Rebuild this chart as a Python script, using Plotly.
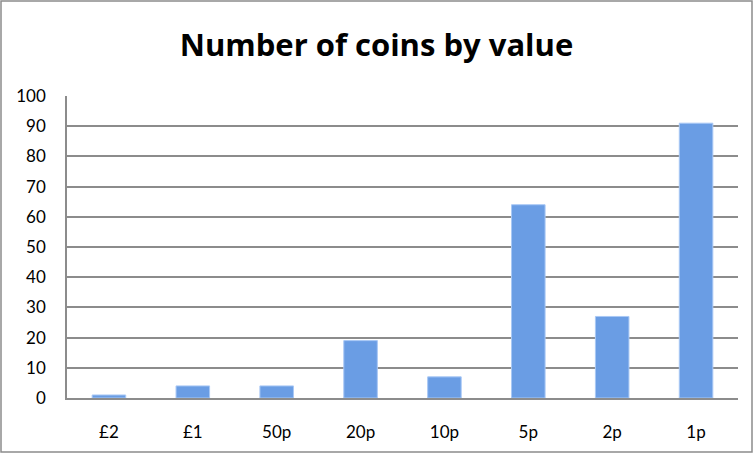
import plotly.graph_objects as go

categories = ["£2", "£1", "50p", "20p", "10p", "5p", "2p", "1p"]
counts = [1, 4, 4, 19, 7, 64, 27, 91]
y_ticks = list(range(0, 101, 10))

fig = go.Figure()
fig.add_trace(go.Bar(
    x=categories, y=counts,
    marker=dict(color="#6A9DE4", line=dict(color="#A9C8F5", width=1)),
))

fig.update_layout(
    width=753, height=453,
    margin=dict(l=67, r=15, t=96, b=55),
    paper_bgcolor="white", plot_bgcolor="white",
    bargap=0.6,
    showlegend=False,
    title=dict(text="<b>Number of coins by value</b>", x=0.5, xanchor="center",
               y=0.9, yanchor="middle",
               font=dict(family="Open Sans, Lato, sans-serif", size=31, color="black")),
    font=dict(family="Lato, Open Sans, sans-serif", size=17, color="black"),
    xaxis=dict(showline=True, linecolor="#8c8c8c", linewidth=1.5, ticks="",
               tickfont=dict(size=17), showgrid=False, ticklabelstandoff=18),
    yaxis=dict(range=[0, 100], tickvals=y_ticks, showgrid=True,
               gridcolor="#8c8c8c", gridwidth=1.5, showline=True,
               linecolor="#8c8c8c", linewidth=1.5, ticks="", zeroline=False,
               tickfont=dict(size=17), ticklabelstandoff=16),
    shapes=[dict(type="rect", xref="paper", yref="paper", x0=-66/671, x1=1+14/671,
                 y0=-54/302, y1=1+95/302, line=dict(color="#8c8c8c", width=1.5))],
)
fig.write_html("out.html", config={"displayModeBar": False},
               post_script="document.body.style.margin='0';")
